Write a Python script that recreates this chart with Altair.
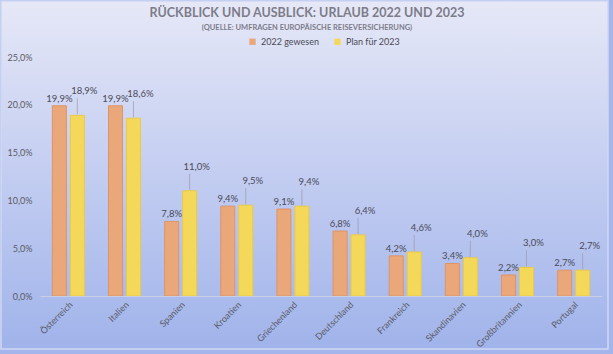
import altair as alt
import pandas as pd

categories = ["Österreich", "Italien", "Spanien", "Kroatien", "Griechenland",
              "Deutschland", "Frankreich", "Skandinavien", "Großbritannien", "Portugal"]
values_2022 = [0.199, 0.199, 0.078, 0.094, 0.091, 0.068, 0.042, 0.034, 0.022, 0.027]
values_2023 = [0.189, 0.186, 0.110, 0.095, 0.094, 0.064, 0.046, 0.040, 0.030, 0.027]
series_names = ["2022 gewesen", "Plan für 2023"]
y_ticks = [0, 0.05, 0.10, 0.15, 0.20, 0.25]

rows = []
for i, c in enumerate(categories):
    rows.append({"Land": c, "Serie": series_names[0], "Wert": values_2022[i]})
    rows.append({"Land": c, "Serie": series_names[1], "Wert": values_2023[i]})
df = pd.DataFrame(rows)

W, H = 562, 239
PL, PT, PR, PB = 40, 57, 11, 58
FONT = "Lato"

bg = alt.Chart(pd.DataFrame({"a": [0]})).mark_rect(
    fill=alt.Gradient(
        gradient="linear",
        stops=[alt.GradientStop(color="#e6e8f7", offset=0),
               alt.GradientStop(color="#c3cdf1", offset=0.5),
               alt.GradientStop(color="#a0b3ea", offset=1)],
        x1=0, x2=0, y1=0, y2=1),
    stroke="#cfd8f5", strokeWidth=1.5
).encode(
    x=alt.value(-PL + 1), x2=alt.value(W + PR - 5),
    y=alt.value(-PT + 1), y2=alt.value(H + PB - 5)
)

xenc = alt.X("Land:N", sort=categories, title=None,
             scale=alt.Scale(paddingInner=0.43, paddingOuter=0.22),
             axis=alt.Axis(labelAngle=-45, labelFontSize=9, labelColor="#5a5a66",
                           labelFont=FONT, ticks=False, domainColor="#c9cfe6",
                           domainWidth=1, labelPadding=4, zindex=1))
xoff = alt.XOffset("Serie:N", sort=series_names,
                   scale=alt.Scale(paddingInner=0.22, paddingOuter=0))
yenc = alt.Y("Wert:Q", title=None,
             scale=alt.Scale(domain=[0, 0.25], nice=False),
             axis=alt.Axis(values=y_ticks, grid=False, domain=False, ticks=False,
                           labelFontSize=9, labelColor="#5a5a66", labelFont=FONT,
                           labelPadding=8, zindex=1,
                           labelExpr="replace(format(datum.value, '.1%'), '.', ',')"))

base = alt.Chart(df).encode(x=xenc, xOffset=xoff, y=yenc)

bars = base.mark_bar(strokeWidth=1).encode(
    color=alt.Color("Serie:N", sort=series_names,
                    scale=alt.Scale(domain=series_names, range=["#eaa77a", "#f4d85a"]),
                    legend=alt.Legend(title=None, orient="none", legendX=208, legendY=-20,
                                      direction="horizontal", symbolType="square",
                                      symbolSize=40, labelFontSize=9, labelFont=FONT,
                                      labelColor="#4a4a55", columnPadding=14,
                                      symbolStrokeWidth=0)),
    stroke=alt.Stroke("Serie:N", sort=series_names,
                      scale=alt.Scale(domain=series_names, range=["#dc9468", "#e9c94a"]),
                      legend=None)
)

labels = base.transform_calculate(
    lbl="replace(format(datum.Wert, '.1%'), '.', ',')"
)

lab22 = labels.transform_filter(alt.datum.Serie == series_names[0]).mark_text(
    dy=-7, fontSize=9.5, font=FONT, color="#4a4a58"
).encode(text="lbl:N")

lab23 = labels.transform_filter(alt.datum.Serie == series_names[1]).mark_text(
    dy=-24, dx=7, fontSize=9.5, font=FONT, color="#4a4a58"
).encode(text="lbl:N")

lead = base.transform_filter(alt.datum.Serie == series_names[1]).mark_rule(
    color="#9a9aae", strokeWidth=0.7, yOffset=-1, y2Offset=-17
).encode(y2="Wert:Q")

chart = alt.layer(bg, bars, lead, lab22, lab23).properties(
    width=W, height=H,
    autosize=alt.AutoSizeParams(type="none"),
    padding={"left": PL, "top": PT, "right": PR, "bottom": PB},
    background="#a3b5ea",
    title=alt.TitleParams(
        text="RÜCKBLICK UND AUSBLICK: URLAUB 2022 UND 2023",
        subtitle="(QUELLE: UMFRAGEN EUROPÄISCHE REISEVERSICHERUNG)",
        anchor="middle", dx=-14, offset=-31, zindex=1,
        font=FONT, fontSize=12.5, fontWeight="bold", color="#7c7c8a",
        subtitleFont=FONT, subtitleFontSize=7.5, subtitleFontWeight="bold",
        subtitleColor="#7c7c8a", subtitlePadding=4
    )
).configure_view(stroke="transparent")

chart.save("out.html", embed_options={"renderer": "svg", "actions": False})
